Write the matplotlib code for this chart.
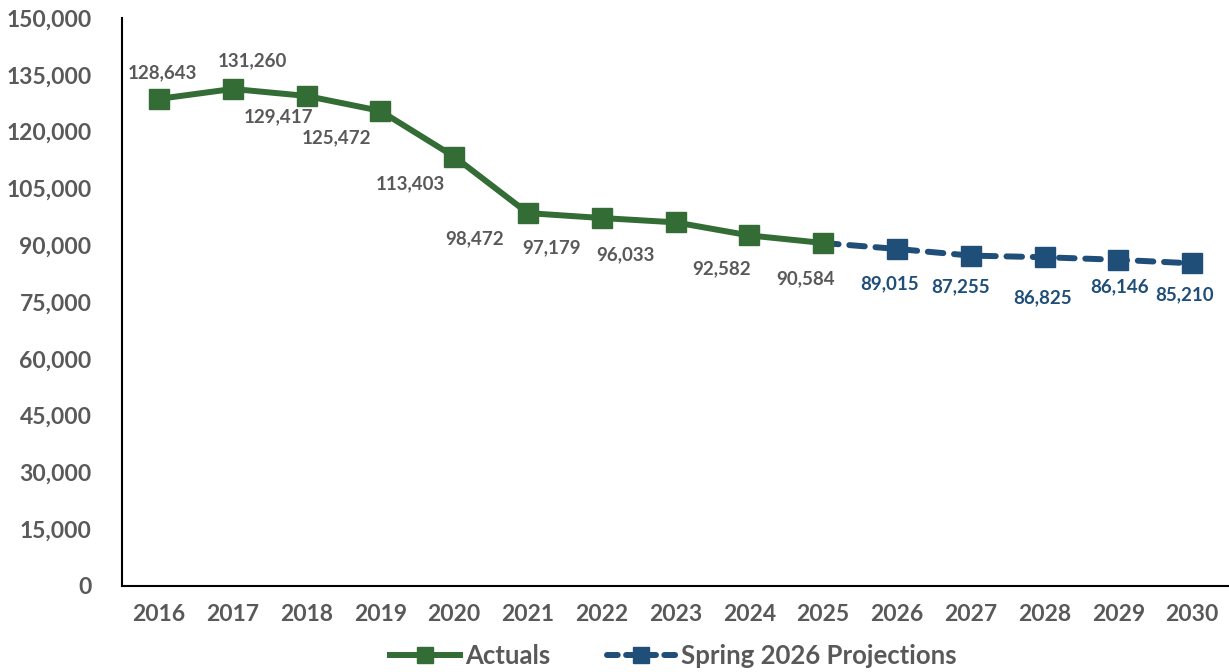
import matplotlib.pyplot as plt
from matplotlib.ticker import FuncFormatter
from matplotlib.lines import Line2D
import numpy as np

plt.rcParams['font.family'] = ['Lato', 'DejaVu Sans']
plt.rcParams['font.weight'] = 'bold'

years = [2016, 2017, 2018, 2019, 2020, 2021, 2022, 2023, 2024, 2025,
         2026, 2027, 2028, 2029, 2030]
actual_years = years[:10]
actuals = [128643, 131260, 129417, 125472, 113403, 98472, 97179, 96033, 92582, 90584]
proj_years = years[9:]
projections = [90584, 89015, 87255, 86825, 86146, 85210]

# label offsets in pixels (dx, dy), as placed in the original
act_offsets = [(4, 26), (20, 28), (-28, -21), (-44, -27), (-44, -27), (-53, -26),
               (-50, -30), (-50, -32), (-28, -33), (-18, -36)]
proj_offsets = [(-7, -35), (-10, -31), (-2, -41), (1, -27), (-8, -31)]

green = '#336c35'
blue = '#1f4e79'
grey = '#595959'

fig = plt.figure(figsize=(12.29, 6.72), dpi=100)
ax = fig.add_axes([122 / 1229, 1 - 586 / 672, 1107 / 1229, 568 / 672])

xa = np.arange(len(actual_years))
xp = np.arange(9, 9 + len(proj_years))

ax.plot(xp, projections, color=blue, lw=4.3, dashes=(2.6, 1.8), dash_capstyle='round',
        marker='s', markersize=15, markevery=list(range(1, len(xp))), zorder=2)
ax.plot(xa, actuals, color=green, lw=4.3, marker='s', markersize=15, zorder=3)

for x, v, (dx, dy) in zip(xa, actuals, act_offsets):
    ax.annotate(f'{v:,}', (x, v), xytext=(dx, dy), textcoords='offset pixels',
                ha='center', va='center', fontsize=13.5, color=grey, fontweight='bold')
for x, v, (dx, dy) in zip(xp[1:], projections[1:], proj_offsets):
    ax.annotate(f'{v:,}', (x, v), xytext=(dx, dy), textcoords='offset pixels',
                ha='center', va='center', fontsize=13.5, color=blue, fontweight='bold')

ax.set_xlim(-0.5, len(years) - 0.5)
ax.set_ylim(0, 150000)
ax.set_yticks(np.arange(0, 150001, 15000))
ax.yaxis.set_major_formatter(FuncFormatter(lambda v, p: f'{int(v):,}'))
ax.set_xticks(np.arange(len(years)))
ax.set_xticklabels([str(y) for y in years])
ax.tick_params(length=0, labelsize=16.5, labelcolor=grey, pad=13)
ax.tick_params(axis='y', pad=22)
for s in ['top', 'right']:
    ax.spines[s].set_visible(False)
for s in ['left', 'bottom']:
    ax.spines[s].set_linewidth(1.5)
    ax.spines[s].set_color('black')

# legend handles: smaller markers than the chart
h_act = Line2D([], [], color=green, lw=4.3, marker='s', markersize=12)
h_proj = Line2D([], [], color=blue, lw=4.3, dashes=(1.8, 1.4), dash_capstyle='round',
                marker='s', markersize=12)
leg = fig.legend([h_act, h_proj], ['Actuals', 'Spring 2026 Projections'], loc='center',
                 bbox_to_anchor=(0.548, 1 - 656 / 672), ncol=2, frameon=False, fontsize=18.5,
                 handlelength=2.7, columnspacing=2.2, handletextpad=0.2)
for t in leg.get_texts():
    t.set_color(grey)

fig.savefig('out.png', dpi=100)
